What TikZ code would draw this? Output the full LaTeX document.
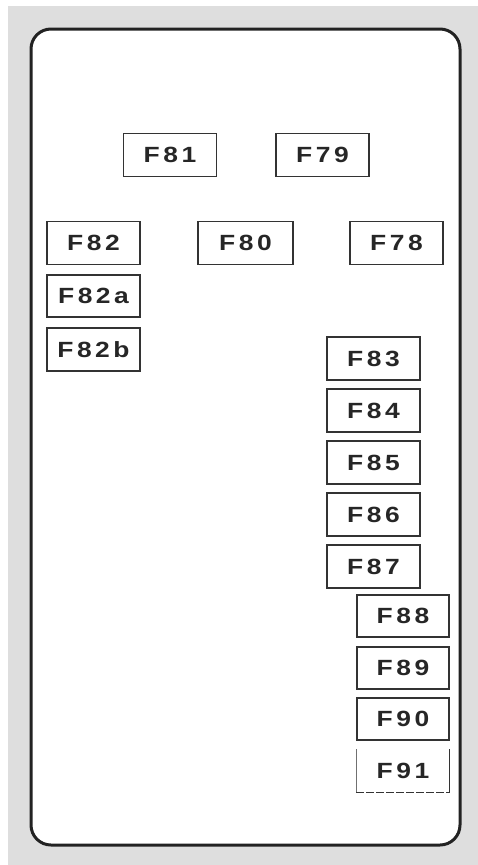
\documentclass[tikz,border=0pt]{standalone}
\usepackage{fontspec}
\newfontfamily\fusefont[LetterSpace=16,FakeStretch=1.2]{Liberation Sans}
\definecolor{bggray}{HTML}{DEDEDE}
\definecolor{edge}{HTML}{222222}
\definecolor{boxedge}{HTML}{333333}
\begin{document}
\begin{tikzpicture}[x=1pt,y=-1pt,
  fusebox/.style={draw=boxedge,line width=1.4pt,fill=white,inner sep=0pt,
    minimum width=93pt,minimum height=43pt,
    font=\fusefont\bfseries\fontsize{22}{22}\selectfont,text=black!85},
  openbox/.style={fusebox,draw=none}]
\useasboundingbox (0,0) rectangle (478,865);
\fill[white] (0,0) rectangle (478,865);
\fill[bggray] (8,6) rectangle (478,865);
\draw[edge,line width=3pt,fill=white,rounded corners=20pt] (31,29) rectangle (460,845);
\node[fusebox] (f81) at (170,155) {F81};
\node[fusebox] (f79) at (322.5,155) {F79};
\node[fusebox] (f82) at (93.5,243) {F82};
\node[fusebox,minimum width=95pt] (f80) at (245.5,243) {F80};
\node[fusebox] (f78) at (396.5,243) {F78};
\node[fusebox,minimum height=42pt] (f82a) at (93.5,296) {F82a};
\node[fusebox] (f82b) at (93.5,349.5) {F82b};
\node[fusebox] (f83) at (373.5,358.5) {F83};
\node[fusebox] (f84) at (373.5,410.5) {F84};
\node[fusebox] (f85) at (373.5,462.5) {F85};
\node[fusebox] (f86) at (373.5,514.5) {F86};
\node[fusebox] (f87) at (373.5,566.5) {F87};
\node[fusebox,minimum width=92pt,minimum height=42pt] (f88) at (403,616) {F88};
\node[fusebox,minimum width=92pt,minimum height=42pt] (f89) at (403,668) {F89};
\node[fusebox,minimum width=92pt,minimum height=42pt] (f90) at (403,719) {F90};
\node[openbox,minimum width=92pt,minimum height=42pt] (f91) at (403,771) {F91};
\draw[boxedge!70,line width=1.2pt] (f91.north west) -- (f91.south west);
\draw[boxedge,line width=1.4pt] (f91.north east) -- (f91.south east);
\draw[boxedge,line width=1.4pt,dash pattern=on 8pt off 2pt] (f91.south west) -- (f91.south east);
\end{tikzpicture}
\end{document}
